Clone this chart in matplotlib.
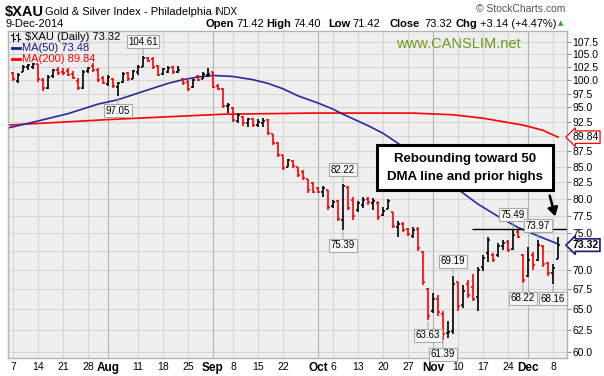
import matplotlib
matplotlib.use("Agg")
import matplotlib.pyplot as plt
import numpy as np
from matplotlib.ticker import FixedLocator, NullLocator
from matplotlib.patches import Rectangle, FancyArrowPatch
from matplotlib.lines import Line2D
import matplotlib.transforms as mtransforms

plt.rcParams['font.family'] = ['Liberation Sans', 'DejaVu Sans']

# daily OHLC for $XAU, 7-Jul-2014 .. 9-Dec-2014 (trading day index 0..109)
opens = [101.3, 99.8, 101.6, 102.5, 102.6, 103.0, 100.0, 98.6, 100.8, 102.0,
         101.6, 101.8, 101.2, 99.8, 98.5, 101.7, 102.7, 102.0, 100.4, 99.3,
         100.2, 98.7, 99.6, 101.3, 100.3, 101.6, 102.6, 104.3, 104.0, 102.7,
         101.1, 101.6, 102.5, 101.5, 100.2, 99.7, 98.7, 100.8, 100.3, 100.9,
         101.5, 99.0, 98.4, 95.2, 94.9, 92.6, 93.3, 92.3, 93.0, 91.9,
         92.3, 92.8, 90.3, 88.9, 86.8, 85.0, 85.9, 84.9, 84.2, 83.0,
         82.4, 81.6, 81.1, 81.3, 78.9, 79.7, 76.8, 81.8, 79.8, 78.3,
         79.0, 80.0, 79.3, 79.4, 77.6, 78.5, 78.0, 75.8, 76.3, 75.6,
         74.6, 75.6, 72.4, 67.5, 64.8, 66.2, 64.4, 62.2, 62.4, 68.4,
         65.5, 68.2, 67.8, 66.5, 70.4, 72.3, 72.0, 72.0, 73.2, 73.8,
         72.8, 75.2, 72.0, 69.2, 72.0, 71.3, 73.2, 70.9, 69.6, 71.42]
highs = [101.6, 101.3, 102.9, 103.1, 103.2, 103.0, 100.4, 100.9, 102.2, 102.5,
         102.4, 102.3, 101.8, 100.4, 101.9, 102.6, 103.3, 102.4, 100.8, 100.9,
         100.4, 99.7, 101.5, 101.6, 101.9, 102.9, 104.61, 104.5, 104.4, 102.9,
         102.4, 102.8, 102.7, 102.8, 100.4, 100.0, 100.3, 101.0, 101.5, 102.3,
         101.6, 99.3, 98.5, 95.8, 95.0, 94.0, 93.5, 93.2, 93.1, 93.0,
         93.1, 93.0, 90.4, 89.1, 86.9, 86.3, 86.1, 85.0, 84.5, 83.0,
         82.6, 81.8, 81.9, 81.4, 79.8, 79.8, 82.22, 82.0, 80.2, 79.7,
         80.2, 80.2, 80.1, 79.6, 78.7, 80.0, 78.1, 76.7, 76.6, 75.7,
         75.9, 75.9, 72.5, 67.6, 67.0, 66.8, 64.8, 63.6, 69.19, 68.4,
         68.0, 68.6, 69.4, 70.3, 72.0, 74.5, 72.2, 73.6, 74.0, 74.0,
         75.49, 75.4, 72.1, 73.0, 72.4, 73.97, 73.3, 71.0, 70.7, 74.40]
lows = [99.9, 99.4, 101.5, 101.9, 102.2, 99.7, 98.0, 98.4, 100.5, 101.0,
        101.0, 100.7, 100.2, 98.2, 98.3, 101.3, 101.6, 99.6, 99.2, 99.0,
        98.6, 97.05, 99.5, 99.8, 100.2, 101.0, 102.5, 103.4, 102.2, 100.7,
        101.0, 101.3, 101.2, 101.3, 99.1, 97.9, 98.6, 99.8, 100.2, 100.6,
        98.5, 98.1, 94.9, 94.0, 92.4, 92.3, 91.8, 91.6, 91.6, 91.5,
        91.5, 90.2, 88.5, 86.6, 84.4, 84.9, 84.8, 83.4, 82.9, 80.9,
        80.8, 80.8, 80.2, 78.3, 78.6, 76.7, 75.39, 78.3, 76.9, 78.0,
        78.6, 79.0, 78.3, 76.9, 77.4, 78.5, 75.7, 74.5, 75.1, 74.6,
        74.3, 72.5, 68.0, 63.63, 64.5, 64.2, 61.39, 61.6, 62.0, 64.8,
        65.2, 66.4, 66.0, 64.8, 69.9, 71.0, 71.0, 71.7, 72.6, 72.4,
        72.6, 74.3, 68.22, 69.0, 70.0, 71.2, 70.4, 69.2, 68.16, 71.42]
closes = [100.2, 100.9, 102.6, 102.9, 103.0, 100.3, 98.5, 100.6, 101.9, 101.4,
          101.3, 101.0, 100.4, 98.5, 101.6, 102.3, 101.9, 100.0, 99.4, 100.6,
          98.9, 99.4, 101.2, 100.2, 101.7, 102.6, 104.2, 103.7, 102.5, 101.0,
          102.1, 102.3, 101.6, 102.0, 99.5, 98.3, 100.1, 100.0, 101.1, 101.2,
          98.8, 98.4, 95.3, 95.5, 92.8, 93.6, 92.2, 93.0, 91.9, 92.5,
          92.6, 90.5, 88.8, 86.9, 84.7, 86.0, 85.1, 83.7, 83.2, 81.3,
          81.1, 81.0, 81.6, 78.7, 79.5, 77.0, 81.9, 78.6, 77.4, 79.3,
          79.8, 79.5, 79.6, 77.3, 78.2, 79.7, 76.0, 76.3, 75.4, 74.9,
          75.5, 72.9, 68.4, 64.2, 66.3, 64.6, 62.0, 62.3, 68.2, 65.4,
          67.2, 66.7, 66.3, 70.0, 71.5, 74.0, 71.3, 73.2, 73.6, 72.7,
          74.8, 74.5, 68.6, 71.3, 70.6, 73.4, 70.8, 69.6, 70.18, 73.32]
prev_close = 101.5

# moving averages (day index, value)
ma50_days = [-1, 4, 11, 17, 21, 27, 31, 34, 37, 40, 44, 48, 51, 54, 57, 61, 64,
             66, 68, 71, 74, 77, 82, 88, 93, 97, 101, 105, 109]
ma50 = [91.4, 92.4, 93.9, 95.6, 96.4, 98.2, 99.4, 100.1, 100.6, 100.9, 100.7,
        100.1, 99.4, 98.4, 97.1, 95.8, 94.7, 93.8, 93.0, 91.8, 90.5, 88.8,
        85.6, 82.0, 79.2, 77.4, 75.8, 74.6, 73.48]
ma200_days = [-1, 20, 42, 60, 80, 88, 94, 102, 106, 109]
ma200 = [91.9, 92.9, 93.8, 94.0, 94.0, 93.7, 93.1, 91.9, 91.0, 89.84]

# x axis labels
tick_days = [0, 5, 10, 15, 19, 25, 30, 35, 40, 44, 49, 54, 61, 64, 69, 74, 79,
             84, 89, 94, 99, 103, 108]
tick_text = ['7', '14', '21', '28', 'Aug', '11', '18', '25', 'Sep', '8', '15',
             '22', 'Oct', '6', '13', '20', '27', 'Nov', '10', '17', '24', 'Dec', '8']
months = ['Aug', 'Sep', 'Oct', 'Nov', 'Dec']

# price call-outs
call_days = [26, 21, 66, 66, 83, 86, 88, 100, 105, 102, 108]
call_vals = [104.61, 97.05, 82.22, 75.39, 63.63, 61.39, 69.19, 75.49, 73.97, 68.22, 68.16]
call_up = [True, False, True, False, False, False, True, True, True, False, False]

W, H = 604, 376


def fx(x):
    return x / W


def fy(y):
    return 1 - y / H


fig = plt.figure(figsize=(W / 100, H / 100), dpi=100)
ax = fig.add_axes([fx(8), fy(358), fx(567) - fx(8), fy(31) - fy(358)])
ax.set_facecolor('#efefef')
ax.set_yscale('log')
ax.set_xlim(-1, 110.8)
ax.set_ylim(59.29, 109.7)

# grid; the 90.0 and 72.5 labels sit under the value tags
yt = np.arange(60, 108, 2.5)
ax.yaxis.set_major_locator(FixedLocator(yt))
ax.yaxis.set_minor_locator(NullLocator())
ax.set_yticklabels(['' if v in (90.0, 72.5) else '%.1f' % v for v in yt])
for v in yt:
    ax.axhline(v, color='#d6d6d6', lw=0.8, zorder=0)
for d, t in zip(tick_days, tick_text):
    ax.axvline(d, color='#b4b4b4' if t in months else '#d6d6d6', lw=0.8, zorder=0)

ax.yaxis.tick_right()
ax.tick_params(axis='y', which='major', direction='out', length=3, pad=1,
               labelsize=7.5, colors='#909090', labelcolor='black')
ax.set_xticks(tick_days)
ax.set_xticklabels(tick_text)
ax.tick_params(axis='x', length=0, pad=3, labelsize=7.5)
for lab in ax.get_xticklabels():
    if lab.get_text() in months:
        lab.set_fontweight('bold')
        lab.set_fontsize(8.5)
for s in ax.spines.values():
    s.set_color('#a8b8b4')
    s.set_linewidth(1)

# moving averages
ax.plot(ma200_days, ma200, color='#ff0000', lw=1.2, zorder=2)
ax.plot(ma50_days, ma50, color='#2a2a9a', lw=1.2, zorder=2)

# OHLC bars
o = np.array(opens)
h = np.array(highs)
l = np.array(lows)
c = np.array(closes)
days = np.arange(len(c))
prev = np.concatenate([[prev_close], c[:-1]])
cols = np.where(c >= prev, 'black', '#ff0000')
ax.vlines(days, l, h, colors=cols, lw=1.2, zorder=3)
ax.hlines(o, days - 0.45, days, colors=cols, lw=1.2, zorder=3)
ax.hlines(c, days, days + 0.45, colors=cols, lw=1.2, zorder=3)

# prior highs line
ax.hlines(75.6, 91.8, 110.8, color='black', lw=1.0, zorder=4)

# call-out labels
for d, v, up in zip(call_days, call_vals, call_up):
    ax.annotate('%.2f' % v, xy=(d, v), xytext=(0, 7 if up else -7),
                textcoords='offset points', ha='center',
                va='bottom' if up else 'top', fontsize=7, zorder=6,
                bbox=dict(boxstyle='square,pad=0.15', fc='#f8f8f8', ec='#a0b0a0', lw=0.8),
                arrowprops=dict(arrowstyle='-', color='#a0b0a0', lw=0.8,
                                shrinkA=0, shrinkB=1))

# right-side value tags
trans = mtransforms.blended_transform_factory(ax.transAxes, ax.transData)
ax.annotate('89.84', xy=(1.0, 89.84), xycoords=trans, xytext=(4, 0),
            textcoords='offset points', ha='left', va='center', fontsize=7.5,
            annotation_clip=False, zorder=7,
            bbox=dict(boxstyle='larrow,pad=0.12', fc='white', ec='#ff0000', lw=0.9))
ax.annotate('73.32', xy=(1.0, 73.32), xycoords=trans, xytext=(4, 0),
            textcoords='offset points', ha='left', va='center', fontsize=7.5,
            fontweight='bold', annotation_clip=False, zorder=7,
            bbox=dict(boxstyle='larrow,pad=0.12', fc='white', ec='#1a1a70', lw=1.2))

# header texts
fig.text(fx(5), fy(12), '$XAU', fontsize=10.5, fontweight='bold', va='center')
fig.text(fx(45), fy(12), 'Gold & Silver Index - Philadelphia', fontsize=8, va='center')
fig.text(fx(214), fy(12), 'INDX', fontsize=7, va='center')
fig.text(fx(5), fy(24), '9-Dec-2014', fontsize=8, va='center')
fig.text(fx(565), fy(9), '\u00a9 StockCharts.com', fontsize=7.5, color='#555555',
         ha='right', va='center')
parts = [(205, 'Open', True), (236, '71.42', False), (266, 'High', True),
         (293, '74.40', False), (328, 'Low', True), (352, '71.42', False),
         (389, 'Close', True), (424, '73.32', False), (456, 'Chg', True),
         (480, '+3.14 (+4.47%)', False)]
for x, t, b in parts:
    fig.text(fx(x), fy(24), t, fontsize=8, va='center',
             fontweight='bold' if b else 'normal')
fig.text(fx(561), fy(23), '\u25b2', fontsize=5, color='#22aa22', ha='center',
         va='center', family='DejaVu Sans')

# legend inside plot
fig.text(fx(25), fy(37), '$XAU (Daily) 73.32', fontsize=8, va='center')
fig.text(fx(22), fy(48), 'MA(50) 73.48', fontsize=8, va='center', color='#1a1a8c')
fig.text(fx(22), fy(59), 'MA(200) 89.84', fontsize=8, va='center', color='#ff0000')
fig.add_artist(Line2D([fx(12), fx(20)], [fy(48), fy(48)], color='#1a1a8c', lw=2))
fig.add_artist(Line2D([fx(12), fx(20)], [fy(59), fy(59)], color='#ff0000', lw=2))
for x0 in (13, 18):
    fig.add_artist(Line2D([fx(x0), fx(x0)], [fy(33), fy(41)], color='black', lw=0.8))
    fig.add_artist(Line2D([fx(x0 - 2), fx(x0)], [fy(35), fy(35)], color='black', lw=0.8))
    fig.add_artist(Line2D([fx(x0), fx(x0 + 2)], [fy(39), fy(39)], color='black', lw=0.8))

fig.text(fx(458), fy(44), 'www.CANSLIM.net', fontsize=10.5, color='#6e9a1e',
         ha='center', va='center')

# annotation box and arrow
fig.add_artist(Rectangle((fx(377), fy(190)), fx(553) - fx(377), fy(145) - fy(190),
                         transform=fig.transFigure, fc='white', ec='black', lw=2.2,
                         zorder=8))
fig.text(fx(465), fy(159), 'Rebounding toward 50', fontsize=9.5, fontweight='bold',
         ha='center', va='center', zorder=9)
fig.text(fx(465), fy(177), 'DMA line and prior highs', fontsize=9.5, fontweight='bold',
         ha='center', va='center', zorder=9)
fig.add_artist(FancyArrowPatch((fx(549), fy(193)), (fx(556), fy(219)),
                               transform=fig.transFigure, arrowstyle='-|>,head_length=5,head_width=3',
                               color='black', lw=1.8, zorder=9))

fig.savefig('out.png', dpi=100)
